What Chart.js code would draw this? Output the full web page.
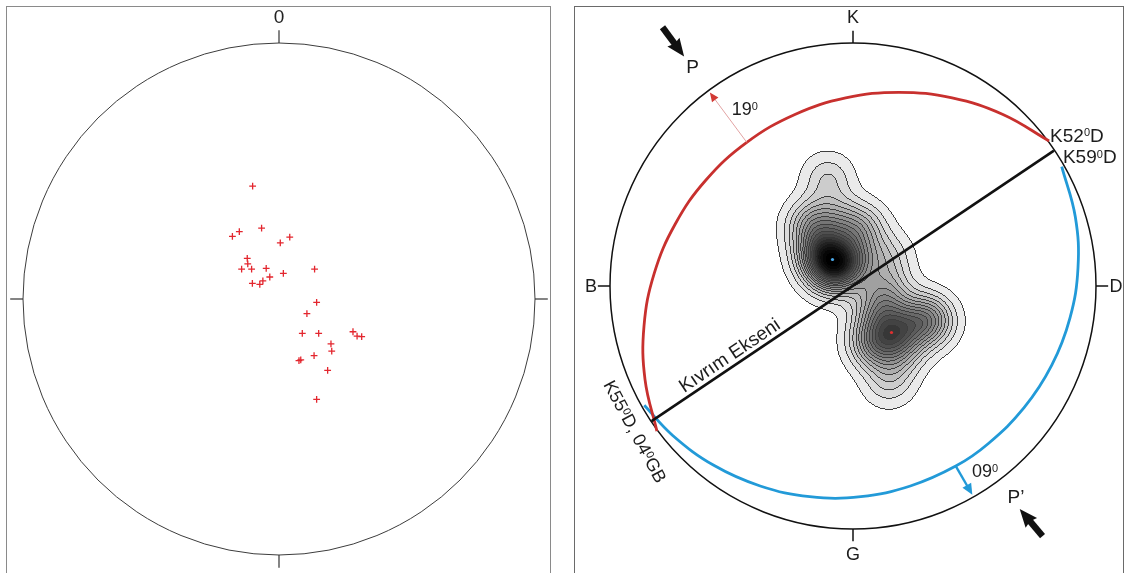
<!DOCTYPE html>
<html>
<head>
<meta charset="utf-8">
<script src="https://cdn.jsdelivr.net/npm/chart.js@4.4.1/dist/chart.umd.min.js"></script>
<style>
html,body{margin:0;padding:0;background:#fff;width:1126px;height:573px;overflow:hidden;}
.frame{position:absolute;border:1px solid #8a8a8a;box-sizing:border-box;}
canvas{position:absolute;top:0;}
</style>
</head>
<body>
<div class="frame" style="left:6px;top:6px;width:545px;height:600px;"></div>
<div class="frame" style="left:574px;top:6px;width:550px;height:600px;border-color:#6a6a6a;"></div>
<canvas id="left" width="563" height="573" style="left:0px"></canvas>
<canvas id="right" width="563" height="573" style="left:563px"></canvas>
<script>
// ===================== DATA (stereonet coordinates, primitive radius = 1, y up) =====================
// Poles (red crosses, left stereonet) – also used for the density contours on the right
const poleX = [-0.103,-0.068,-0.155,-0.182,0.042,0.005,-0.124,-0.122,-0.146,-0.107,-0.050,0.139,-0.036,0.017,-0.063,-0.104,-0.075,0.147,0.109,0.091,0.155,0.289,0.305,0.323,0.203,0.206,0.137,0.078,0.085,0.190,0.147];
const poleY = [0.441,0.277,0.263,0.245,0.242,0.219,0.159,0.137,0.117,0.117,0.120,0.117,0.086,0.100,0.071,0.061,0.057,-0.013,-0.057,-0.134,-0.134,-0.128,-0.145,-0.147,-0.175,-0.204,-0.221,-0.241,-0.238,-0.279,-0.392];

// Direction tick labels
const leftTickLabels = ['0'];
const rightTickLabels = ['K','D','G','B'];

// Red great circle (limb, 19°)
const redArcX = [0.807,0.617,0.408,0.189,-0.030,-0.239,-0.437,-0.606,-0.732,-0.818,-0.860,-0.856,-0.807];
const redArcY = [0.597,0.706,0.774,0.797,0.774,0.706,0.591,0.435,0.254,0.052,-0.164,-0.384,-0.597];
// Blue great circle (limb, 09°)
const blueArcX = [0.859,0.915,0.926,0.893,0.818,0.704,0.556,0.423,0.236,0.032,-0.178,-0.382,-0.573,-0.742,-0.859];
const blueArcY = [0.491,0.284,0.076,-0.131,-0.326,-0.501,-0.649,-0.741,-0.823,-0.867,-0.867,-0.823,-0.738,-0.615,-0.491];
// Fold axis (Kıvrım Ekseni)
const foldAxisX = [-0.829,0.827];
const foldAxisY = [-0.556,0.557];
// Dip arrows (from arc to primitive)
const redArrowX = [-0.437,-0.589];
const redArrowY = [0.591,0.796];
const blueArrowX = [0.423,0.491];
const blueArrowY = [-0.741,-0.859];
// Compression direction arrows P and P'
const pArrowX = [-0.784,-0.695];
const pArrowY = [1.065,0.944];
const p2ArrowX = [0.780,0.686];
const p2ArrowY = [-1.029,-0.918];

// ===================== STYLE / LAYOUT =====================
const FONT = '"Liberation Sans", Arial, Helvetica, sans-serif';
const KDE_SIGMA = 0.07, LEVEL_MIN = 0.25, N_LEVELS = 20, GRAY_GAMMA = 1.25;

function pts(xs, ys){ return xs.map((v,i)=>({x:v, y:ys[i]})); }
function geom(chart){
  const {x,y} = chart.scales;
  return {px:v=>x.getPixelForValue(v), py:v=>y.getPixelForValue(v),
          cx:x.getPixelForValue(0), cy:y.getPixelForValue(0),
          r:x.getPixelForValue(1)-x.getPixelForValue(0)};
}
function drawPrimitive(chart, color, width, tickColor, tickWidth, tickLen){
  const g = geom(chart), ctx = chart.ctx;
  ctx.save();
  ctx.strokeStyle = color; ctx.lineWidth = width;
  ctx.beginPath(); ctx.arc(g.cx, g.cy, g.r, 0, Math.PI*2); ctx.stroke();
  ctx.strokeStyle = tickColor; ctx.lineWidth = tickWidth;
  [[0,1],[1,0],[0,-1],[-1,0]].forEach(([dx,dy])=>{
    ctx.beginPath();
    ctx.moveTo(g.px(dx), g.py(dy));
    ctx.lineTo(g.px(dx*(1+tickLen)), g.py(dy*(1+tickLen)));
    ctx.stroke();
  });
  ctx.restore();
}
// rich text with superscripts: parts = [[text, isSup], ...]
function richText(ctx, parts, px, py, o){
  const size = o.size||18, align = o.align||'left', base = o.baseline||'alphabetic';
  ctx.save();
  ctx.translate(px, py); ctx.rotate((o.rot||0)*Math.PI/180);
  ctx.fillStyle = o.color||'#1c1c1c'; ctx.textBaseline = base; ctx.textAlign = 'left';
  const sup = Math.round(size*0.6);
  let w = 0;
  const ws = parts.map(p=>{ ctx.font = (p[1]?sup:size)+'px '+FONT; const m = ctx.measureText(p[0]).width; w += m; return m; });
  let x0 = align==='center' ? -w/2 : (align==='right' ? -w : 0);
  const supOff = base==='alphabetic' ? -size*0.29 : -size*0.16;
  parts.forEach((p,i)=>{ ctx.font = (p[1]?sup:size)+'px '+FONT; ctx.fillText(p[0], x0, p[1]?supOff:0); x0 += ws[i]; });
  ctx.restore();
}
function arrow(ctx, x0,y0,x1,y1, o){
  const dx=x1-x0, dy=y1-y0, L=Math.hypot(dx,dy), ux=dx/L, uy=dy/L, nx=-uy, ny=ux;
  const bx=x1-ux*o.headLen, by=y1-uy*o.headLen;
  ctx.save();
  ctx.strokeStyle = o.shaftColor||o.color; ctx.lineWidth = o.shaft; ctx.lineCap='butt';
  ctx.beginPath(); ctx.moveTo(x0,y0); ctx.lineTo(bx+ux*1.5, by+uy*1.5); ctx.stroke();
  ctx.fillStyle = o.color;
  ctx.beginPath(); ctx.moveTo(x1,y1);
  ctx.lineTo(bx+nx*o.headW/2 - ux*(o.notch||0), by+ny*o.headW/2 - uy*(o.notch||0));
  ctx.lineTo(bx, by);
  ctx.lineTo(bx-nx*o.headW/2 - ux*(o.notch||0), by-ny*o.headW/2 - uy*(o.notch||0));
  ctx.closePath(); ctx.fill();
  ctx.restore();
}
function drawDensity(chart){
  const ctx = chart.ctx, {x,y} = chart.scales;
  const X0=Math.floor(x.getPixelForValue(-0.5)), X1=Math.ceil(x.getPixelForValue(0.7));
  const Y0=Math.floor(y.getPixelForValue(0.75)), Y1=Math.ceil(y.getPixelForValue(-0.7));
  const W=X1-X0, H=Y1-Y0, N=W*H;
  const f = new Float32Array(N), vxs = new Float32Array(W), vys = new Float32Array(H);
  for(let i=0;i<W;i++) vxs[i]=x.getValueForPixel(X0+i+0.5);
  for(let j=0;j<H;j++) vys[j]=y.getValueForPixel(Y0+j+0.5);
  const s2 = 2*KDE_SIGMA*KDE_SIGMA;
  let fmax=0, imax=0;
  for(let j=0;j<H;j++){ const vy=vys[j];
    for(let i=0;i<W;i++){ const vx=vxs[i]; let d=0;
      for(let k=0;k<poleX.length;k++){ const ddx=vx-poleX[k], ddy=vy-poleY[k]; d+=Math.exp(-(ddx*ddx+ddy*ddy)/s2); }
      const p=j*W+i; f[p]=d; if(d>fmax){fmax=d; imax=p;}
    }
  }
  const step=(fmax-LEVEL_MIN)/N_LEVELS;
  const lev=new Int16Array(N);
  for(let p=0;p<N;p++) lev[p] = f[p]<LEVEL_MIN ? 0 : Math.min(N_LEVELS, 1+Math.floor((f[p]-LEVEL_MIN)/step));
  const off=document.createElement('canvas'); off.width=W; off.height=H;
  const octx=off.getContext('2d'); const img=octx.createImageData(W,H); const D=img.data;
  for(let j=0;j<H;j++) for(let i=0;i<W;i++){
    const p=j*W+i, L=lev[p]; if(!L) continue;
    let g=Math.round(234*Math.pow((N_LEVELS-L)/(N_LEVELS-1), GRAY_GAMMA));
    const edge=(i>0&&lev[p-1]<L)||(i<W-1&&lev[p+1]<L)||(j>0&&lev[p-W]<L)||(j<H-1&&lev[p+W]<L);
    if(edge) g=Math.min(g,62);
    D[p*4]=D[p*4+1]=D[p*4+2]=g; D[p*4+3]=255;
  }
  octx.putImageData(img,0,0);
  ctx.drawImage(off,X0,Y0);
  // second maximum (away from the first)
  const mi=imax%W, mj=Math.floor(imax/W);
  let f2=0, i2=0;
  for(let p=0;p<N;p++){ const ii=p%W, jj=Math.floor(p/W);
    const dv=Math.hypot(vxs[ii]-vxs[mi], vys[jj]-vys[mj]); if(dv>0.2 && f[p]>f2){f2=f[p]; i2=p;} }
  ctx.save();
  ctx.fillStyle='#4aa8e8'; ctx.beginPath(); ctx.arc(X0+mi+0.5, Y0+mj+0.5, 1.6, 0, Math.PI*2); ctx.fill();
  ctx.fillStyle='#e03030'; ctx.beginPath(); ctx.arc(X0+(i2%W)+0.5, Y0+Math.floor(i2/W)+0.5, 1.6, 0, Math.PI*2); ctx.fill();
  ctx.restore();
}
function baseOptions(pad){
  return {responsive:false, animation:false, devicePixelRatio:1, events:[],
    layout:{padding:pad},
    plugins:{legend:{display:false}, tooltip:{enabled:false}},
    scales:{x:{type:'linear',min:-1,max:1,display:false}, y:{type:'linear',min:-1,max:1,display:false}}};
}

// ===================== LEFT STEREONET =====================
new Chart(document.getElementById('left'), {
  type:'scatter',
  data:{datasets:[{label:'Kutuplar', data:pts(poleX,poleY), pointStyle:'cross', pointRadius:3.4,
    borderColor:'#e3262e', borderWidth:1.3, showLine:false, clip:false}]},
  options:baseOptions({left:23,right:28,top:43,bottom:18}),
  plugins:[{id:'leftDeco',
    beforeDatasetsDraw(chart){ drawPrimitive(chart,'#3c3c3c',1,'#333',1.2,0.05); },
    afterDraw(chart){ const g=geom(chart);
      richText(chart.ctx, [[leftTickLabels[0],false]], g.px(0), g.py(1.10), {size:19, align:'center', baseline:'middle', color:'#222'}); }
  }]
});

// ===================== RIGHT STEREONET =====================
new Chart(document.getElementById('right'), {
  type:'scatter',
  data:{datasets:[
    {label:'Kıvrım Ekseni', data:pts(foldAxisX,foldAxisY), showLine:true, borderColor:'#111', borderWidth:2.6, pointRadius:0, order:0, clip:false},
    {label:'Kanat 1', data:pts(redArcX,redArcY), showLine:true, borderColor:'#c8302e', borderWidth:2.8, pointRadius:0, tension:0.4, order:1, clip:false},
    {label:'Kanat 2', data:pts(blueArcX,blueArcY), showLine:true, borderColor:'#229ad8', borderWidth:2.8, pointRadius:0, tension:0.4, order:2, clip:false}
  ]},
  options:baseOptions({left:47,right:30,top:43,bottom:44}),
  plugins:[{id:'rightDeco',
    beforeDatasetsDraw(chart){ drawDensity(chart); drawPrimitive(chart,'#111',1.5,'#111',1.5,0.05); },
    afterDatasetsDraw(chart){
      const g=geom(chart), ctx=chart.ctx;
      // dip arrows
      arrow(ctx, g.px(redArrowX[0]), g.py(redArrowY[0]), g.px(redArrowX[1]), g.py(redArrowY[1]),
        {shaft:1, shaftColor:'#e2a3a3', color:'#d23a35', headLen:9, headW:8});
      arrow(ctx, g.px(blueArrowX[0]), g.py(blueArrowY[0]), g.px(blueArrowX[1]), g.py(blueArrowY[1]),
        {shaft:2.4, color:'#229ad8', headLen:11, headW:10});
      // P arrows
      arrow(ctx, g.px(pArrowX[0]), g.py(pArrowY[0]), g.px(pArrowX[1]), g.py(pArrowY[1]),
        {shaft:6.5, color:'#111', headLen:16, headW:15, notch:2});
      arrow(ctx, g.px(p2ArrowX[0]), g.py(p2ArrowY[0]), g.px(p2ArrowX[1]), g.py(p2ArrowY[1]),
        {shaft:6.5, color:'#111', headLen:16, headW:15, notch:2});
      // direction labels
      const dirPos = [[0,1.103],[1.082,-0.004],[0,-1.107],[-1.078,-0.004]];
      rightTickLabels.forEach((t,i)=>richText(ctx, [[t,false]], g.px(dirPos[i][0]), g.py(dirPos[i][1]), {size:18, align:'center', baseline:'middle'}));
      // annotations
      richText(ctx, [['K52',false],['0',true],['D',false]], g.px(0.811), g.py(0.594), {size:19});
      richText(ctx, [['K59',false],['0',true],['D',false]], g.px(0.864), g.py(0.506), {size:19});
      richText(ctx, [['19',false],['0',true]], g.px(-0.499), g.py(0.704), {size:18});
      richText(ctx, [['09',false],['0',true]], g.px(0.490), g.py(-0.786), {size:18});
      richText(ctx, [['P',false]], g.px(-0.660), g.py(0.897), {size:19, align:'center', baseline:'middle'});
      richText(ctx, [['P’',false]], g.px(0.671), g.py(-0.872), {size:19, align:'center', baseline:'middle'});
      richText(ctx, [['K55',false],['0',true],['D, 04',false],['0',true],['GB',false]], g.px(-0.901), g.py(-0.601), {size:18, align:'center', baseline:'middle', rot:61.8});
      richText(ctx, [['Kıvrım Ekseni',false]], g.px(-0.506), g.py(-0.288), {size:19, align:'center', baseline:'middle', rot:-33.9});
    }
  }]
});
</script>
</body>
</html>
